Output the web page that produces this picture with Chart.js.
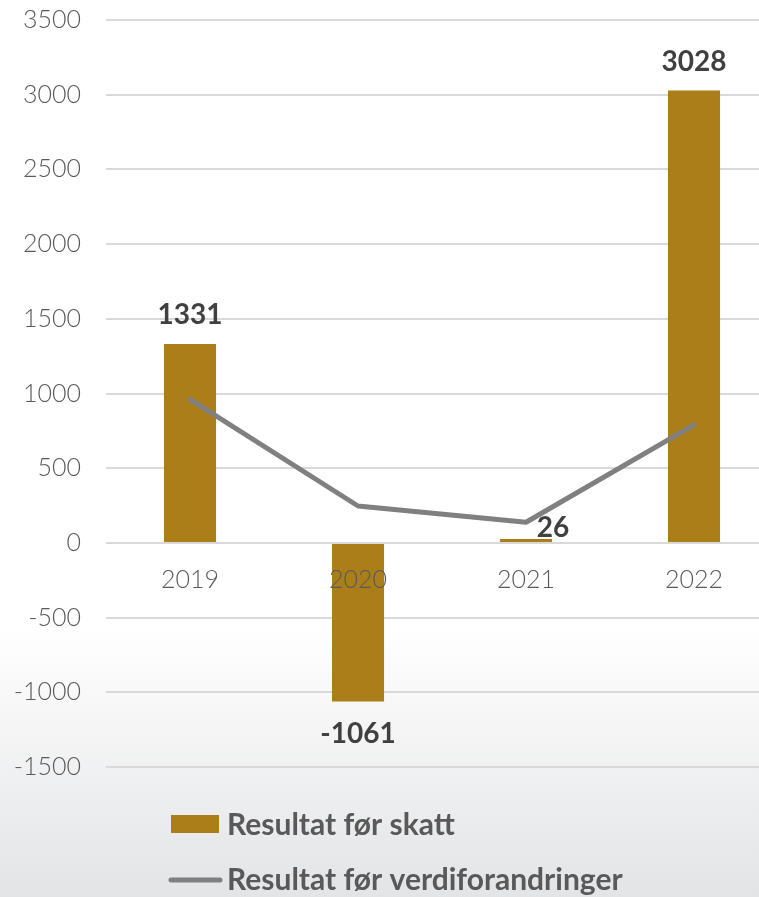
<!DOCTYPE html>
<html>
<head>
<meta charset="utf-8">
<script src="https://cdn.jsdelivr.net/npm/chart.js@4.4.1/dist/chart.umd.min.js"></script>
<style>
  html, body { margin: 0; padding: 0; overflow: hidden; width: 759px; height: 897px; }
  body { background: linear-gradient(to bottom, #ffffff 0%, #ffffff 70%, #e3e4e6 100%); }
  #wrap { width: 778px; height: 917px; position: relative; margin-top: -20px; }
</style>
</head>
<body>
<div id="wrap"><canvas id="c"></canvas></div>
<script>
const categories = ['2019', '2020', '2021', '2022'];
const resultatForSkatt = [1331, -1061, 26, 3028];
const resultatForVerdiendringer = [960, 247, 138, 790];
const seriesNames = ['Resultat før skatt', 'Resultat før verdiforandringer'];
const yTicks = [-1500, -1000, -500, 0, 500, 1000, 1500, 2000, 2500, 3000, 3500];

const GOLD = '#AB7E1A';
const GREY = '#808080';
const TXT = '#595959';
const FONT = "Lato, 'Liberation Sans', sans-serif";
const SHIFT = 20; // canvas is shifted up by this amount

const labelPlugin = {
  id: 'barLabels',
  afterDatasetsDraw(chart, args, opts) {
    const ctx = chart.ctx;
    const meta = chart.getDatasetMeta(1);
    const ds = chart.data.datasets[1];
    ctx.save();
    ctx.font = 'bold 28px ' + FONT;
    ctx.fillStyle = '#404040';
    ctx.textAlign = 'center';
    ctx.textBaseline = 'middle';
    meta.data.forEach((bar, i) => {
      const v = ds.data[i];
      const adj = (opts.adjust && opts.adjust[i]) || [0, 0];
      let y = v >= 0 ? bar.y - 29 : bar.y + 33;
      ctx.fillText(String(v), bar.x + adj[0], y + adj[1]);
    });
    ctx.restore();
  }
};

const legendPlugin = {
  id: 'customLegend',
  afterDraw(chart) {
    const ctx = chart.ctx;
    ctx.save();
    ctx.translate(0, SHIFT);
    ctx.font = 'bold 30px ' + FONT;
    ctx.textBaseline = 'middle';
    ctx.textAlign = 'left';
    ctx.fillStyle = GOLD;
    ctx.fillRect(171, 815, 48, 18);
    ctx.fillStyle = TXT;
    ctx.fillText(seriesNames[0], 227, 825);
    ctx.strokeStyle = GREY;
    ctx.lineWidth = 5;
    ctx.lineCap = 'round';
    ctx.beginPath();
    ctx.moveTo(171, 880);
    ctx.lineTo(220, 880);
    ctx.stroke();
    ctx.fillText(seriesNames[1], 227, 880);
    ctx.restore();
  }
};

new Chart(document.getElementById('c'), {
  data: {
    labels: categories,
    datasets: [
      {
        type: 'line',
        label: seriesNames[1],
        data: resultatForVerdiendringer,
        borderColor: GREY,
        borderWidth: 5,
        pointRadius: 0,
        borderCapStyle: 'round',
        borderJoinStyle: 'round',
        tension: 0,
        order: 0
      },
      {
        type: 'bar',
        label: seriesNames[0],
        data: resultatForSkatt,
        backgroundColor: GOLD,
        categoryPercentage: 1,
        barPercentage: 0.31,
        order: 1
      }
    ]
  },
  options: {
    responsive: true,
    maintainAspectRatio: false,
    animation: false,
    layout: { padding: { top: 0, bottom: 130, left: 0, right: 0 } },
    plugins: {
      legend: { display: false },
      tooltip: { enabled: false },
      barLabels: { adjust: { 2: [27, 18] } }
    },
    scales: {
      x: {
        position: { y: 0 },
        grid: { display: false, drawTicks: false },
        border: { display: false },
        ticks: {
          z: 1,
          color: TXT,
          autoSkip: false,
          maxRotation: 0,
          font: { family: FONT, size: 25, weight: '300' },
          padding: 22
        }
      },
      y: {
        min: -1500,
        max: 3500,
        afterBuildTicks(scale) { scale.ticks = yTicks.map(v => ({ value: v })); },
        afterFit(scale) { scale.width = 106; },
        grid: { color: '#d9d9d9', lineWidth: 2, drawTicks: false },
        border: { display: false },
        ticks: {
          color: TXT,
          font: { family: FONT, size: 25, weight: '300' },
          padding: 25,
          callback: v => String(v)
        }
      }
    }
  },
  plugins: [labelPlugin, legendPlugin]
});
</script>
</body>
</html>
